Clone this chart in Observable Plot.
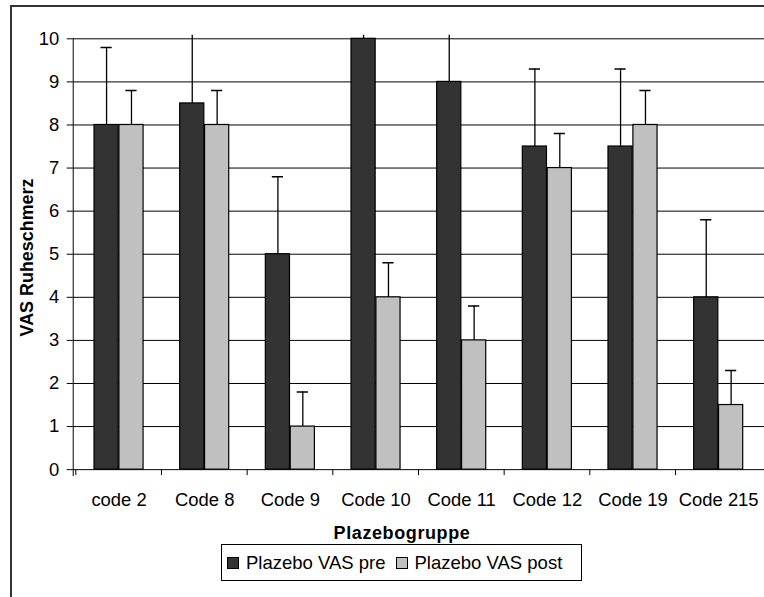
<!DOCTYPE html>
<html>
<head>
<meta charset="utf-8">
<script src="https://cdn.jsdelivr.net/npm/d3@7"></script>
<script src="https://cdn.jsdelivr.net/npm/@observablehq/plot@0.6"></script>
<style>
  html, body { margin: 0; padding: 0; background: #fff; overflow: hidden; width: 764px; height: 597px; }
  body { position: relative; font-family: "Liberation Sans", Arial, sans-serif; }
  #frame { position: absolute; left: 10px; top: 5px; width: 900px; height: 800px; border: 2px solid #333; box-sizing: border-box; }
  #chart { position: absolute; left: 0; top: 0; }
  #xtitle { position: absolute; top: 524px; left: 402px; transform: translateX(-50%); font-weight: bold; font-size: 18px; line-height: 18px; letter-spacing: 0.6px; white-space: nowrap; }
  #legend { position: absolute; left: 221px; top: 544px; width: 361px; height: 37px; box-sizing: border-box; border: 1px solid #000; display: flex; align-items: center; font-size: 18.5px; padding-left: 5px; white-space: nowrap; }
  .sw { display: inline-block; width: 10px; height: 10px; border: 1px solid #000; margin-right: 7px; }
  .item { display: flex; align-items: center; margin-right: 10px; }
</style>
</head>
<body>
<div id="frame"></div>
<div id="chart"></div>
<div id="xtitle">Plazebogruppe</div>
<div id="legend"></div>
<script>
const categories = ["code 2", "Code 8", "Code 9", "Code 10", "Code 11", "Code 12", "Code 19", "Code 215"];
const preValues  = [8, 8.5, 5, 10, 9, 7.5, 7.5, 4];
const postValues = [8, 8, 1, 4, 3, 7, 8, 1.5];
const preErr  = [1.8, 1.8, 1.8, 1.8, 1.8, 1.8, 1.8, 1.8];
const postErr = [0.8, 0.8, 0.8, 0.8, 0.8, 0.8, 0.8, 0.8];
const yTicks = [0, 1, 2, 3, 4, 5, 6, 7, 8, 9, 10];
const seriesNames = ["Plazebo VAS pre", "Plazebo VAS post"];
const seriesColors = ["#333333", "#c0c0c0"];

const data = categories.map((c, i) => ({cat: c, pre: preValues[i], post: postValues[i], preErr: preErr[i], postErr: postErr[i]}));

const half = 43.375; // half of band step
const barW = 25;
const capInset = 6.5;

const chart = Plot.plot({
  width: 767,
  height: 515,
  marginLeft: 73,
  marginRight: 0,
  marginTop: 35,
  marginBottom: 44,
  style: {fontFamily: '"Liberation Sans", Arial, sans-serif', fontSize: "18.5px", color: "#000", background: "transparent"},
  x: {domain: categories, padding: 0, label: null},
  y: {domain: [0, 10.08], label: null},
  marks: [
    Plot.ruleY(yTicks, {stroke: "#000", strokeWidth: 1}),
    Plot.barY(data, {x: "cat", y: "pre", fill: seriesColors[0], stroke: "#000", strokeWidth: 1.2, insetLeft: half - barW, insetRight: half}),
    Plot.barY(data, {x: "cat", y: "post", fill: seriesColors[1], stroke: "#000", strokeWidth: 1.2, insetLeft: half, insetRight: half - barW}),
    Plot.ruleX(data, {x: "cat", y1: "pre", y2: d => d.pre + d.preErr, dx: -barW / 2, stroke: "#000", strokeWidth: 1.3, clip: true}),
    Plot.ruleX(data, {x: "cat", y1: "post", y2: d => d.post + d.postErr, dx: barW / 2, stroke: "#000", strokeWidth: 1.3, clip: true}),
    Plot.tickY(data, {x: "cat", y: d => d.pre + d.preErr, insetLeft: half - barW + capInset, insetRight: half + capInset, stroke: "#000", strokeWidth: 1.5, clip: true}),
    Plot.tickY(data, {x: "cat", y: d => d.post + d.postErr, insetLeft: half + capInset, insetRight: half - barW + capInset, stroke: "#000", strokeWidth: 1.5, clip: true}),
    Plot.frame({anchor: "left", insetTop: 3.5, insetBottom: -6, stroke: "#000"}),
    Plot.axisY({ticks: yTicks, tickSize: 6, tickPadding: 8, fontSize: 18.5, label: null}),
    Plot.axisX({tickSize: 0, tickPadding: 23, fontSize: 18.5, label: null}),
    Plot.axisX({tickSize: 6, tickFormat: () => "", dx: -half, label: null}),
    Plot.text(["VAS Ruheschmerz"], {frameAnchor: "left", textAnchor: "middle", lineAnchor: "middle", rotate: -90, dx: -46, dy: 5, fontWeight: "bold", fontSize: 18, text: d => d, style: "letter-spacing:0.3px"})
  ]
});
document.getElementById("chart").appendChild(chart);

const legend = document.getElementById("legend");
seriesNames.forEach((n, i) => {
  const item = document.createElement("span");
  item.className = "item";
  const sw = document.createElement("span");
  sw.className = "sw";
  sw.style.background = seriesColors[i];
  item.appendChild(sw);
  item.appendChild(document.createTextNode(n));
  legend.appendChild(item);
});
</script>
</body>
</html>
